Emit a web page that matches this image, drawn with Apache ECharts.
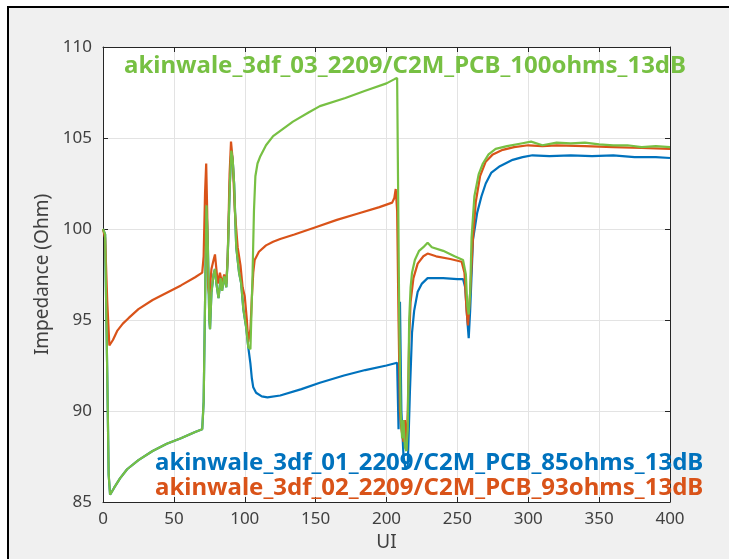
<!DOCTYPE html>
<html>
<head>
<meta charset="utf-8">
<script src="https://cdn.jsdelivr.net/npm/echarts@6/dist/echarts.min.js"></script>
<style>
  html, body { margin: 0; padding: 0; background: #fff; overflow: hidden; }
  #frame { position: absolute; left: 7px; top: 6px; width: 740px; height: 570px;
           background: #f0f0f0; border-top: 2px solid #000; border-left: 2px solid #000; }
  #chart { position: absolute; left: 0; top: 0; width: 729px; height: 559px; }
</style>
</head>
<body>
<div id="frame"></div>
<div id="chart"></div>
<script>
// x ticks / y ticks
var uiTicks = [0, 50, 100, 150, 200, 250, 300, 350, 400];
var ohmTicks = [85, 90, 95, 100, 105, 110];

var seriesNames = [
  'akinwale_3df_01_2209/C2M_PCB_85ohms_13dB',
  'akinwale_3df_02_2209/C2M_PCB_93ohms_13dB',
  'akinwale_3df_03_2209/C2M_PCB_100ohms_13dB'
];

// 100 ohm trace (green)
var uiGreen = [0, 1.5, 3, 4, 5, 6, 8, 12, 17, 25, 35, 45, 55, 65, 70, 71, 72, 73, 74, 75, 75.5, 76.5, 78, 79, 80, 81.5, 83, 84, 85.5, 87, 88, 89.5, 90.5, 91.5, 92.5, 94, 96, 97.5, 99, 101, 102.5, 104, 105.5, 106.5, 107.5, 109, 111, 115, 120, 127, 134, 145, 153, 171, 185, 200, 206, 207.5, 209, 210, 211, 212, 213, 214, 215, 216, 217, 218, 220, 223, 226, 229, 232, 240, 248, 254, 256, 257, 258, 259, 260, 262, 265, 268, 272, 277, 285, 295, 302, 310, 320, 330, 340, 350, 360, 370, 380, 390, 400];
var zGreen = [100.0, 99.7, 92.0, 86.5, 85.4, 85.5, 85.8, 86.3, 86.8, 87.3, 87.8, 88.2, 88.5, 88.85, 89.0, 90.5, 96.0, 101.3, 99.0, 95.0, 94.5, 96.5, 97.5, 97.8, 97.0, 96.2, 97.3, 96.6, 97.4, 96.8, 98.5, 102.5, 104.3, 103.8, 102.5, 99.0, 97.6, 97.0, 95.6, 94.6, 93.5, 93.4, 97.5, 101.0, 102.9, 103.6, 104.0, 104.6, 105.1, 105.5, 105.9, 106.4, 106.75, 107.2, 107.6, 108.0, 108.25, 108.3, 95.0, 90.0, 88.5, 89.5, 88.0, 87.8, 89.0, 95.0, 96.8, 97.6, 98.3, 98.8, 99.0, 99.25, 99.0, 98.8, 98.5, 98.3, 97.5, 95.8, 95.3, 96.5, 99.5, 101.8, 103.0, 103.6, 104.1, 104.4, 104.55, 104.7, 104.8, 104.6, 104.75, 104.7, 104.75, 104.65, 104.6, 104.6, 104.5, 104.55, 104.5];

// 93 ohm trace (orange)
var uiOrange = [0, 1.5, 3, 4.5, 5.5, 7, 10, 14, 18, 25, 35, 45, 55, 65, 70, 71, 72, 72.8, 73.5, 74.2, 75, 76.5, 78, 79, 80, 81, 82.5, 84, 85.5, 87, 88, 89.3, 90.3, 91.5, 93, 95, 97, 98.5, 100, 101.5, 102.5, 104, 105, 106, 107, 110, 115, 120, 125, 135, 150, 165, 180, 195, 204, 205.5, 206.5, 207.5, 208.5, 209.5, 210.5, 212, 213, 214, 215, 216, 217, 219, 222, 226, 229, 235, 245, 253, 255, 256.5, 257.5, 259, 261, 263, 266, 270, 275, 282, 290, 300, 310, 320, 340, 360, 380, 400];
var zOrange = [100.0, 99.5, 96.0, 93.6, 93.5, 93.9, 94.4, 94.8, 95.1, 95.6, 96.1, 96.5, 96.9, 97.35, 97.6, 98.5, 102.0, 103.6, 101.0, 96.8, 96.3, 97.8, 98.3, 98.6, 97.8, 97.0, 97.6, 97.0, 97.5, 97.0, 98.5, 103.0, 104.8, 103.8, 101.0, 99.0, 98.0, 96.8, 96.3, 95.0, 93.8, 94.5, 96.2, 97.6, 98.3, 98.75, 99.1, 99.3, 99.45, 99.7, 100.1, 100.5, 100.85, 101.2, 101.45, 101.7, 102.2, 101.0, 95.0, 90.0, 89.0, 88.3, 89.5, 87.8, 90.0, 94.0, 96.0, 97.3, 98.1, 98.5, 98.65, 98.5, 98.35, 98.2, 97.6, 95.5, 94.7, 96.5, 99.5, 101.5, 102.9, 103.7, 104.1, 104.35, 104.5, 104.6, 104.55, 104.6, 104.55, 104.5, 104.45, 104.4];

// 85 ohm trace (blue), lies under the green one up to ~102 UI
var uiBlue = [0, 1.5, 3, 4, 5, 6, 8, 12, 17, 25, 35, 45, 55, 65, 70, 71, 72, 73, 74, 75, 75.5, 76.5, 78, 79, 80, 81.5, 83, 84, 85.5, 87, 88, 89.5, 90.5, 91.5, 92.5, 94, 96, 97.5, 99, 101, 102.5, 104, 105, 106, 108, 112, 116, 125, 140, 153, 170, 185, 200, 207.5, 208.5, 209.5, 210.5, 212, 213.5, 215, 216.5, 218, 219.5, 222, 225, 229, 240, 250, 254, 255.5, 257, 258, 259, 261, 264, 267, 270, 274, 280, 289, 296, 303, 315, 330, 345, 360, 375, 390, 400];
var zBlue = [100.0, 99.7, 92.0, 86.5, 85.4, 85.5, 85.8, 86.3, 86.8, 87.3, 87.8, 88.2, 88.5, 88.85, 89.0, 90.5, 96.0, 101.3, 99.0, 95.0, 94.5, 96.5, 97.5, 97.8, 97.0, 96.2, 97.3, 96.6, 97.4, 96.8, 98.5, 102.5, 104.3, 103.8, 102.5, 99.0, 97.6, 97.0, 95.6, 94.6, 93.5, 92.6, 91.8, 91.3, 91.0, 90.8, 90.75, 90.85, 91.2, 91.55, 91.95, 92.25, 92.5, 92.65, 89.0, 96.0, 90.0, 87.5, 86.8, 87.0, 91.0, 94.3, 95.5, 96.55, 97.0, 97.3, 97.3, 97.25, 97.25, 96.8, 95.0, 94.0, 95.5, 99.4, 100.9, 101.8, 102.5, 103.1, 103.45, 103.8, 103.95, 104.05, 104.0, 104.05, 104.0, 104.05, 103.95, 103.95, 103.9];

var colBlue = '#0072bd', colOrange = '#d95319', colGreen = '#77c043';

function pairs(xs, ys) {
    return xs.map(function (x, i) { return [x, ys[i]]; });
}

var chart = echarts.init(document.getElementById('chart'));

var txt = {fontFamily: 'Noto Sans', fontSize: 17, color: '#404040'};
var nameTxt = {fontFamily: 'Noto Sans', fontSize: 19, color: '#404040'};
var labelFont = 'bold 24px "Noto Sans"';

chart.setOption({
    animation: false,
    backgroundColor: 'transparent',
    grid: {left: 103, right: 59, top: 47, bottom: 57, show: true, backgroundColor: '#fff', borderWidth: 0},
    graphic: [
        {type: 'text', z: 100, x: 405, y: 66, style: {text: seriesNames[2], fill: colGreen, font: labelFont, align: 'center', verticalAlign: 'middle'}},
        {type: 'text', z: 100, x: 155, y: 463, style: {text: seriesNames[0], fill: colBlue, font: labelFont, align: 'left', verticalAlign: 'middle'}},
        {type: 'text', z: 100, x: 155, y: 488, style: {text: seriesNames[1], fill: colOrange, font: labelFont, align: 'left', verticalAlign: 'middle'}}
    ],
    xAxis: [{
        type: 'value', min: uiTicks[0], max: uiTicks[uiTicks.length - 1], interval: 50,
        name: 'UI', nameLocation: 'middle', nameGap: 30,
        nameTextStyle: nameTxt,
        axisLine: {show: true, onZero: false, lineStyle: {color: '#262626', width: 1}},
        axisTick: {show: true, inside: true, length: 5, lineStyle: {color: '#262626'}},
        axisLabel: Object.assign({margin: 9}, txt),
        splitLine: {show: true, lineStyle: {color: '#e3e3e3', width: 1}}
    }, {
        type: 'value', position: 'top', min: 0, max: 400, interval: 50,
        axisLine: {show: true, onZero: false, lineStyle: {color: '#262626', width: 1}},
        axisTick: {show: true, inside: true, length: 5, lineStyle: {color: '#262626'}},
        axisLabel: {show: false}, splitLine: {show: false}
    }],
    yAxis: [{
        type: 'value', min: ohmTicks[0], max: ohmTicks[ohmTicks.length - 1], interval: 5,
        name: 'Impedance (Ohm)', nameLocation: 'middle', nameGap: 42,
        nameTextStyle: nameTxt,
        axisLine: {show: true, onZero: false, lineStyle: {color: '#262626', width: 1}},
        axisTick: {show: true, inside: true, length: 5, lineStyle: {color: '#262626'}},
        axisLabel: Object.assign({margin: 11}, txt),
        splitLine: {show: true, lineStyle: {color: '#e3e3e3', width: 1}}
    }, {
        type: 'value', position: 'right', min: 85, max: 110, interval: 5,
        axisLine: {show: true, onZero: false, lineStyle: {color: '#262626', width: 1}},
        axisTick: {show: true, inside: true, length: 5, lineStyle: {color: '#262626'}},
        axisLabel: {show: false}, splitLine: {show: false}
    }],
    series: [
        {name: seriesNames[0], type: 'line', data: pairs(uiBlue, zBlue), showSymbol: false,
         lineStyle: {color: colBlue, width: 2.2}, itemStyle: {color: colBlue}, z: 2},
        {name: seriesNames[1], type: 'line', data: pairs(uiOrange, zOrange), showSymbol: false,
         lineStyle: {color: colOrange, width: 2.2}, itemStyle: {color: colOrange}, z: 3},
        {name: seriesNames[2], type: 'line', data: pairs(uiGreen, zGreen), showSymbol: false,
         lineStyle: {color: colGreen, width: 2.2}, itemStyle: {color: colGreen}, z: 4}
    ]
});
</script>
</body>
</html>
